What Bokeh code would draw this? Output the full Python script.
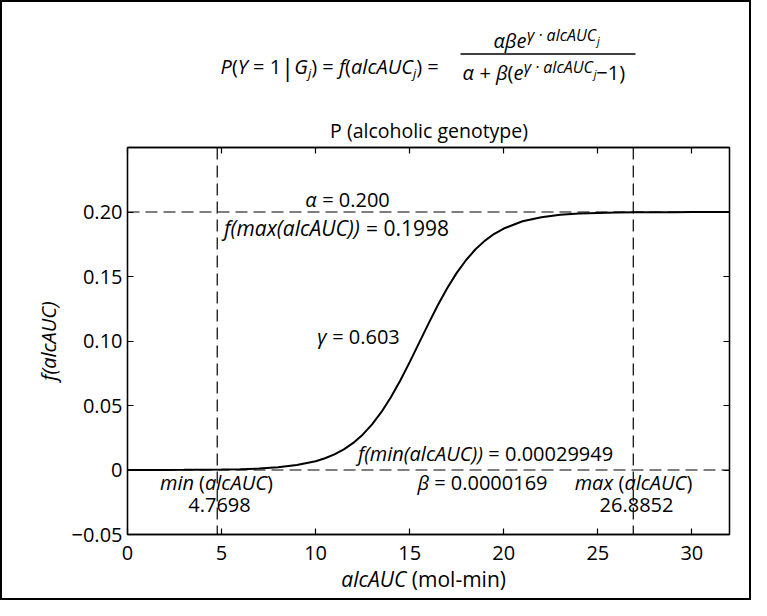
from bokeh.plotting import figure
from bokeh.layouts import column
from bokeh.models import Range1d, LinearAxis, FixedTicker, Span, Label, Arrow
from bokeh.embed import file_html
from bokeh.resources import INLINE

# ---------------- data ----------------
alcauc = [0, 1, 2, 3, 4, 5, 6, 7, 8, 9, 10, 10.5, 11, 11.5, 12, 12.5, 13, 13.5,
          14, 14.5, 15, 15.5, 16, 16.5, 17, 17.5, 18, 18.5, 19, 19.5, 20, 21,
          22, 23, 24, 25, 26, 27, 28, 29, 30, 31, 32]
f_alcauc = [0.00002, 0.00003, 0.00006, 0.0001, 0.00019, 0.00034, 0.00063, 0.00115,
            0.0021, 0.0038, 0.0068, 0.0091, 0.0121, 0.0160, 0.0210, 0.0274, 0.0354,
            0.0450, 0.0564, 0.0694, 0.0836, 0.0985, 0.1135, 0.1279, 0.1411, 0.1528,
            0.1628, 0.1711, 0.1778, 0.1831, 0.1872, 0.1928, 0.1960, 0.1978, 0.1988,
            0.1993, 0.1996, 0.1998, 0.1999, 0.1999, 0.2000, 0.2000, 0.2000]

alpha_txt = "0.200"
beta_txt = "0.0000169"
gamma_txt = "0.603"
alpha_level = 0.200
zero_level = 0.0
min_alcauc = 4.7698
max_alcauc = 26.8852
f_min_txt = "0.00029949"
f_max_txt = "0.1998"

x_ticks = [0, 5, 10, 15, 20, 25, 30]
x_tick_labels = ["0", "5", "10", "15", "20", "25", "30"]
y_ticks = [-0.05, 0.0, 0.05, 0.10, 0.15, 0.20]
y_tick_labels = ["\u22120.05", "0", "0.05", "0.10", "0.15", "0.20"]

title_txt = "P (alcoholic genotype)"
x_label_it, x_label_up = "alcAUC", " (mol-min)"
y_label = "f(alcAUC)"

FONT = "Open Sans"
W = 747
H_HDR, H_MAIN, H_FTR = 142, 420, 34
ML, MR, MT, MB = 125, 20, 3, 30
FW, FH = W - ML - MR, H_MAIN - MT - MB       # 602 x 387
BORDER = 2
REF_LEFT, REF_TOP = ML + BORDER, H_HDR + MT + BORDER


def text_panel(height):
    # panel whose frame is horizontally aligned with the main plot's frame;
    # its coordinates are picture pixels
    f = figure(width=W, height=height,
               x_range=Range1d(REF_LEFT, REF_LEFT + FW), y_range=Range1d(height, 0),
               output_backend="svg", toolbar_location=None,
               x_axis_type=None, y_axis_type=None,
               min_border_left=ML, min_border_right=MR, min_border_top=0, min_border_bottom=0)
    f.outline_line_color = None
    return f


hdr = text_panel(H_HDR)
ftr = text_panel(H_FTR)

# ---------------- main plot ----------------
p = figure(width=W, height=H_MAIN, x_range=Range1d(0, 32), y_range=Range1d(-0.05, 0.25),
           output_backend="svg", toolbar_location=None,
           min_border_left=ML, min_border_top=MT, min_border_right=MR, min_border_bottom=MB)
p.xgrid.visible = False
p.ygrid.visible = False
p.outline_line_color = "black"
p.outline_line_width = 1.3


def style_axis(ax, ticks, labels, show_labels=True):
    ax.ticker = FixedTicker(ticks=ticks)
    ax.minor_tick_line_color = None
    ax.major_tick_in = 6
    ax.major_tick_out = 0
    ax.major_tick_line_color = "black"
    ax.major_tick_line_width = 1.2
    ax.axis_line_color = "black"
    ax.axis_line_width = 1.3
    ax.major_label_text_font = FONT
    ax.major_label_text_color = "black"
    if show_labels:
        ax.major_label_overrides = dict(zip(ticks, labels))
        ax.major_label_text_font_size = "20px"
    else:
        ax.major_label_overrides = {t: "" for t in ticks}
        ax.major_label_text_font_size = "0px"
        ax.major_label_standoff = 0


style_axis(p.xaxis[0], x_ticks, x_tick_labels)
p.xaxis[0].major_label_standoff = 11
style_axis(p.yaxis[0], y_ticks, y_tick_labels)
p.yaxis[0].major_label_standoff = 5
p.yaxis[0].axis_label = y_label
p.yaxis[0].axis_label_text_font = FONT
p.yaxis[0].axis_label_text_font_style = "italic"
p.yaxis[0].axis_label_text_font_size = "20px"
p.yaxis[0].axis_label_text_color = "black"
p.yaxis[0].axis_label_standoff = 7

top_ax = LinearAxis()
style_axis(top_ax, x_ticks, x_tick_labels, show_labels=False)
p.add_layout(top_ax, "above")
right_ax = LinearAxis()
style_axis(right_ax, y_ticks, y_tick_labels, show_labels=False)
p.add_layout(right_ax, "right")

for loc, dim in [(alpha_level, "width"), (zero_level, "width"),
                 (min_alcauc, "height"), (max_alcauc, "height")]:
    p.add_layout(Span(location=loc, dimension=dim, line_color="black",
                      line_width=1.2, line_dash="12 6"))

p.line(alcauc, f_alcauc, line_color="black", line_width=2)

# ---------------- text layout helpers ----------------
UP = {' ': .26, '(': .296, ')': .296, '=': .571, '+': .571, '\u2212': .571, '.': .267,
      '|': .55, '\u00b7': .267, '-': .322, 'P': .603, 'a': .556, 'l': .23, 'c': .478,
      'o': .604, 'h': .614, 'i': .23, 'g': .548, 'e': .561, 'n': .614, 't': .349,
      'y': .503, 'p': .613, 'm': .94}
for d in "0123456789":
    UP[d] = .571
IT = {' ': .26, '(': .29, ')': .29, 'P': .57, 'Y': .5, 'G': .69, 'f': .31, 'j': .24,
      'a': .57, 'l': .25, 'c': .45, 'A': .56, 'U': .68, 'C': .59, 'e': .51,
      '\u03b1': .59, '\u03b2': .57, '\u03b3': .49, 'm': .87, 'i': .25, 'n': .57,
      'x': .49, '\u00b7': .27}


def tw(s, style, size):
    tab = IT if style == "italic" else UP
    return sum(tab.get(ch, 0.55) for ch in s) * size


def to_main(rx, ry):
    return ((rx - REF_LEFT) * 32.0 / FW, 0.25 - (ry - REF_TOP) * 0.30 / FH)


def to_hdr(rx, ry):
    return (rx, ry - BORDER)


def to_ftr(rx, ry):
    return (rx, ry - BORDER - H_HDR - H_MAIN)


def run(fig, conv, pieces, start_px, base_px):
    cur = start_px
    for text, style, size, dy in pieces:
        lead = len(text) - len(text.lstrip(' '))
        core = text.strip(' ')
        trail = len(text) - len(text.rstrip(' '))
        cur += tw(' ' * lead, style, size)
        if core:
            x, y = conv(cur, base_px + dy - 0.39 * size)
            fig.add_layout(Label(x=x, y=y, text=core, text_font=FONT,
                                 text_font_style=style, text_font_size=f"{size}px",
                                 text_color="black", text_baseline="middle",
                                 text_align="left"))
            cur += tw(core, style, size)
        cur += tw(' ' * trail, style, size)
    return cur


def centered(fig, conv, pieces, cx, base_px):
    tot = sum(tw(t, s, z) for t, s, z, _ in pieces)
    run(fig, conv, pieces, cx - tot / 2.0, base_px)


I, N = "italic", "normal"

# annotations inside the frame (positions in reference-picture pixels)
centered(p, to_main, [("\u03b1", I, 20, 0), (" = " + alpha_txt, N, 20, 0)], 347, 207)
centered(p, to_main, [("f(max(alcAUC))", I, 21, 0), (" = " + f_max_txt, N, 21, 0)], 336, 236)
centered(p, to_main, [("\u03b3", I, 20, 0), (" = " + gamma_txt, N, 20, 0)], 358, 344)
centered(p, to_main, [("f(min(alcAUC))", I, 20, 0), (" = " + f_min_txt, N, 20, 0)], 485, 461)
centered(p, to_main, [("min", I, 20, 0), (" (", N, 20, 0), ("alcAUC", I, 20, 0), (")", N, 20, 0)], 216, 490)
centered(p, to_main, [(f"{min_alcauc:.4f}", N, 20, 0)], 219, 512)
centered(p, to_main, [("\u03b2", I, 20, 0), (" = " + beta_txt, N, 20, 0)], 482, 490)
centered(p, to_main, [("max", I, 20, 0), (" (", N, 20, 0), ("alcAUC", I, 20, 0), (")", N, 20, 0)], 633, 490)
centered(p, to_main, [(f"{max_alcauc:.4f}", N, 20, 0)], 636, 512)

# title
centered(hdr, to_hdr, [(title_txt, N, 19.5, 0)], 428, 138)

# x-axis label
centered(ftr, to_ftr, [(x_label_it, I, 21, 0), (x_label_up, N, 21, 0)], 423, 587)

# formula
run(hdr, to_hdr, [("P", I, 20, 0), ("(", N, 20, 0), ("Y", I, 20, 0), (" = 1", N, 20, 0),
                  ("|", N, 24, 1), ("G", I, 20, 0), ("j", I, 13, 4), (") = ", N, 20, 0),
                  ("f", I, 20, 0), ("(", N, 20, 0), ("alcAUC", I, 20, 0), ("j", I, 13, 4),
                  (") =", N, 20, 0)], 220, 74)
run(hdr, to_hdr, [("\u03b1\u03b2e", I, 20, 0), ("\u03b3 \u00b7 alcAUC", I, 16, -7),
                  ("j", I, 11, -4)], 493, 48)
run(hdr, to_hdr, [("\u03b1", I, 20, 0), (" + ", N, 20, 0), ("\u03b2", I, 20, 0), ("(", N, 20, 0),
                  ("e", I, 20, 0), ("\u03b3 \u00b7 alcAUC", I, 16, -7), ("j", I, 11, -3),
                  ("\u22121)", N, 20, 0)], 462, 80)
bx0, by0 = to_hdr(460, 53.5)
bx1, by1 = to_hdr(635, 53.5)
hdr.add_layout(Arrow(start=None, end=None, x_start=bx0, y_start=by0, x_end=bx1, y_end=by1,
                     line_color="black", line_width=1.3))

layout = column(hdr, p, ftr, spacing=0, styles={"border": f"{BORDER}px solid black"})
open("out.html", "w").write(file_html(layout, INLINE))
